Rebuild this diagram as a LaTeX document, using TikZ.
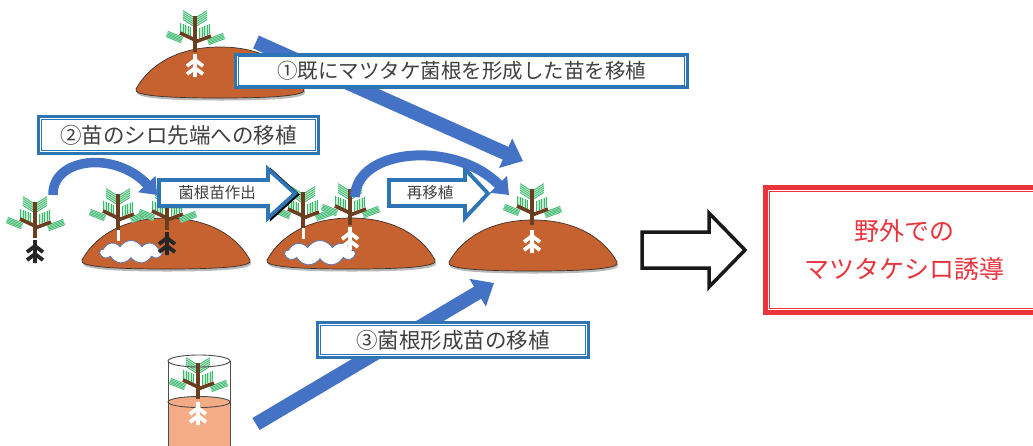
\documentclass[tikz,border=0pt]{standalone}
\usepackage{fontspec}
\newfontfamily\jp{Noto Sans CJK JP}
\usetikzlibrary{arrows.meta,calc,shapes.symbols}

\definecolor{soilbrown}{RGB}{197,98,48}
\definecolor{moundline}{RGB}{60,50,45}
\definecolor{trunkbrown}{RGB}{107,62,31}
\definecolor{leafbg}{RGB}{196,237,208}
\definecolor{leafline}{RGB}{62,184,112}
\definecolor{arrowblue}{RGB}{68,114,196}
\definecolor{frameblue}{RGB}{46,117,182}
\definecolor{textgray}{RGB}{64,64,64}
\definecolor{alertred}{RGB}{233,52,60}
\definecolor{cupsoil}{RGB}{244,172,135}
\definecolor{cloudline}{RGB}{90,120,180}
\definecolor{rootdark}{RGB}{38,38,38}

% one striped needle tuft: four corners, stripes run parallel to the first edge
\newcommand\sdleaf[4]{%
  \fill[leafbg] #1 -- #2 -- #3 -- #4 -- cycle;
  \foreach \t in {0.06,0.28,0.5,0.72,0.94}
    \draw[leafline, line width=0.75pt] ($#1!\t!#4$) -- ($#2!\t!#3$);
}

\tikzset{
  trunk/.style={draw=trunkbrown, line width=3.6pt},
  pics/mound/.style={code={
    \fill[black!28, shift={(1,2.5)}] (-84,-8) .. controls (-72,-30) and (-45,-50) .. (0,-50)
      .. controls (45,-50) and (72,-30) .. (84,-8) .. controls (88,-1) and (50,1) .. (0,1)
      .. controls (-50,1) and (-88,-1) .. (-84,-8) -- cycle;
    \draw[fill=soilbrown, draw=moundline, line width=0.7pt] (-84,-8) .. controls (-72,-30) and (-45,-50) .. (0,-50)
      .. controls (45,-50) and (72,-30) .. (84,-8) .. controls (88,-1) and (50,1) .. (0,1)
      .. controls (-50,1) and (-88,-1) .. (-84,-8) -- cycle;
  }},
  pics/seedling/.style={code={
    \sdleaf{(-1,-35)}{(-12,-42)}{(-12,-32)}{(-1,-25)}
    \sdleaf{(1,-35)}{(12,-42)}{(12,-32)}{(1,-25)}
    \sdleaf{(-4,-15)}{(-4,-25)}{(-15,-29)}{(-15,-19)}
    \sdleaf{(4,-14)}{(4,-24)}{(15,-28)}{(15,-18)}
    \sdleaf{(-12,-15)}{(-27,-21)}{(-29,-15)}{(-14,-9)}
    \sdleaf{(12,-13)}{(28,-19)}{(30,-13)}{(14,-7)}
    \draw[trunk] (0,0) -- (0,-36);
    \draw[trunk] (0,-12) -- (-15,-19);
    \draw[trunk] (0,-10) -- (16,-16);
  }},
  pics/roots/.style={code={
    \draw[line width=3.8pt] (0,2) -- (0,25) (-8,14) -- (0,8) -- (8,14) (-8,22) -- (0,16) -- (8,22);
  }},
  pics/stem/.style={code={
    \draw[line width=3pt] (0,0) -- (0,11);
  }},
  labelbox/.style={draw=frameblue, line width=3.4pt, fill=white, inner sep=0pt, text=textgray},
  straightarrow/.style={draw=arrowblue, line width=14pt, -{Triangle[width=31pt,length=19pt]}},
  bendarrow/.style={draw=arrowblue, line width=9.5pt, -{Triangle[width=23pt,length=15pt]}},
  hollowarrow/.style={draw=frameblue, line width=3.8pt, fill=white, line join=miter},
  soilcloud/.style={cloud, cloud puffs=9, cloud puff arc=120, aspect=2.6, draw=cloudline,
    fill=white, line width=0.8pt, inner sep=0pt},
  cupline/.style={draw=black!70, line width=0.9pt},
}

\begin{document}
\begin{tikzpicture}[x=1pt,y=-1pt]
\useasboundingbox (0,0) rectangle (1033,445);
\clip (0,0) rectangle (1033,445);
\fill[white] (0,0) rectangle (1033,445);

% mounds of soil
\pic at (220,97) {mound};
\pic at (166,268) {mound};
\pic at (351,268) {mound};
\pic at (533,270) {mound};

% mycorrhizal "shiro" colonies
\node[soilcloud, minimum width=62pt, minimum height=23pt] (shiroA) at (131,252) {};
\node[soilcloud, minimum width=70pt, minimum height=25pt] (shiroB) at (320,253) {};

% seedlings
\pic at (195,52) {seedling};
\pic[color=white] at (195,52) {roots};
\pic at (35,238) {seedling};
\pic[color=rootdark] at (35,238) {roots};
\pic at (118,230) {seedling};
\pic[color=white] at (118,230) {stem};
\pic at (167,230) {seedling};
\pic[color=rootdark] at (167,230) {roots};
\pic at (303,228) {seedling};
\pic[color=white] at (303,228) {stem};
\pic at (350,225) {seedling};
\pic[color=white] at (350,225) {roots};
\pic at (532,225) {seedling};
\pic[color=white] at (532,228) {roots};

% potted seedling
\fill[cupsoil] (168,402) -- (168,450) -- (230,450) -- (230,402) -- cycle;
\fill[cupsoil] (199,402) ellipse [x radius=31, y radius=5.5];
\draw[cupline] (199,402) ellipse [x radius=31, y radius=5.5];
\pic at (198,399) {seedling};
\pic[color=white] at (198,400) {roots};
\draw[cupline] (199,361) ellipse [x radius=31, y radius=6];
\draw[cupline] (168,361) -- (168,450) (230,361) -- (230,450);

% hollow step arrows
\draw[hollowarrow, draw=black, line width=2.4pt, shift={(3,1)}]
  (159,180) -- (268,180) -- (268,169) -- (295,193.5) -- (268,218) -- (268,206) -- (159,206) -- cycle;
\draw[hollowarrow]
  (159,180) -- (268,180) -- (268,169) -- (295,193.5) -- (268,218) -- (268,206) -- (159,206) -- cycle;
\node[text=textgray, font=\jp\fontsize{15.5}{18}\selectfont] (produce) at (217,193) {菌根苗作出};
\draw[hollowarrow]
  (389,180) -- (465,180) -- (465,169) -- (488,193.5) -- (465,218) -- (465,206) -- (389,206) -- cycle;
\node[text=textgray, font=\jp\fontsize{15.5}{18}\selectfont] (replant) at (430,193) {再移植};

% transplant arrows
\coordinate (ca1s) at (53,195);
\coordinate (ca1e) at (157,195);
\draw[bendarrow] (ca1s) .. controls (52,158) and (115,150) .. (ca1e);
\coordinate (ca2s) at (355,197);
\coordinate (ca2e) at (509,195);
\draw[bendarrow, line width=10pt] (ca2s) .. controls (356,148) and (455,140) .. (ca2e);

\coordinate (sa1s) at (256,42);
\coordinate (sa1e) at (523,161);
\draw[straightarrow] (sa1s) -- (sa1e);
\coordinate (sa3s) at (256,424);
\coordinate (sa3e) at (494,283);
\draw[straightarrow] (sa3s) -- (sa3e);

% labels
\node[labelbox, minimum width=451.5pt, minimum height=33.5pt,
  font=\jp\fontsize{20.5}{24}\selectfont] (lab1) at (461.5,71) {①既にマツタケ菌根を形成した苗を移植};
\draw[frameblue, line width=0.9pt] ([shift={(4.2,4.2)}]lab1.north west) rectangle ([shift={(-4.2,-4.2)}]lab1.south east);
\node[labelbox, minimum width=279.5pt, minimum height=36.5pt,
  font=\jp\fontsize{21.5}{24}\selectfont] (lab2) at (178.5,135) {②苗のシロ先端への移植};
\draw[frameblue, line width=0.9pt] ([shift={(4.2,4.2)}]lab2.north west) rectangle ([shift={(-4.2,-4.2)}]lab2.south east);
\node[labelbox, minimum width=270.5pt, minimum height=34.5pt,
  font=\jp\fontsize{21.5}{24}\selectfont] (lab3) at (453,340) {③菌根形成苗の移植};
\draw[frameblue, line width=0.9pt] ([shift={(4.2,4.2)}]lab3.north west) rectangle ([shift={(-4.2,-4.2)}]lab3.south east);

% result
\draw[draw=black!90, line width=3.5pt, fill=white, line join=miter]
  (642,232) -- (709,232) -- (709,213) -- (745,250) -- (709,287) -- (709,268) -- (642,268) -- cycle;
\node[draw=alertred, line width=5pt, fill=white, minimum width=277pt, minimum height=125pt,
  inner sep=0pt, text=alertred, align=center, font=\jp\fontsize{25}{38}\selectfont] (goal) at (904,250)
  {野外での\\マツタケシロ誘導};
\draw[alertred, line width=1.5pt] ([shift={(6.3,6.3)}]goal.north west) rectangle ([shift={(-6.3,-6.3)}]goal.south east);
\end{tikzpicture}
\end{document}
